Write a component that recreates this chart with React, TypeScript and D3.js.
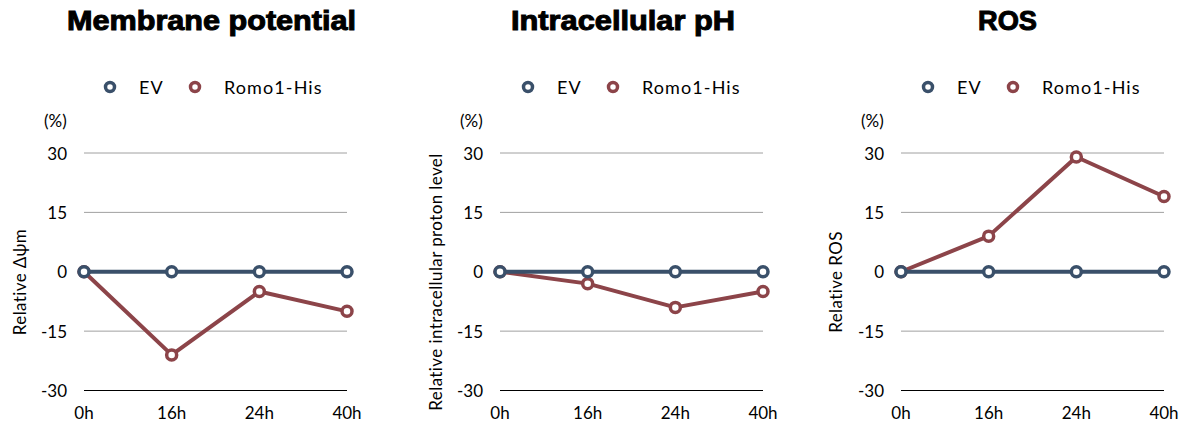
import React from "react";
import * as d3 from "d3";

const categories = ["0h", "16h", "24h", "40h"];
const yTicks = [-30, -15, 0, 15, 30];
const seriesNames = ["EV", "Romo1-His"];

const membraneEV = [0, 0, 0, 0];
const membraneRomo = [0, -21, -5, -10];
const phEV = [0, 0, 0, 0];
const phRomo = [0, -3, -9, -5];
const rosEV = [0, 0, 0, 0];
const rosRomo = [0, 9, 29, 19];

const COLORS = ["#3A506A", "#8C4449"];
const FONT = "Lato, 'Open Sans', sans-serif";

type PanelProps = {
  title: string;
  titleWidth: number;
  yLabel: string;
  ev: number[];
  romo: number[];
  plotLeft: number;
  titleX: number;
  yLabelX: number;
  legendX: number;
  pctX: number;
};

function Panel(p: PanelProps) {
  const x = d3.scalePoint<string>().domain(categories).range([p.plotLeft, p.plotLeft + 263]).padding(0);
  const y = d3.scaleLinear().domain([-30, 30]).range([390.5, 153]);
  const line = d3
    .line<number>()
    .x((_, i) => x(categories[i]) as number)
    .y((d) => y(d));
  const series = [p.ev, p.romo];
  return (
    <g>
      <text
        x={p.titleX}
        y={30}
        textAnchor="middle"
        fontFamily="'Liberation Sans', Arial, sans-serif"
        fontWeight={900}
        fontSize={27}
        fill="#000"
        stroke="#000"
        strokeWidth={1}
        textLength={p.titleWidth}
        lengthAdjust="spacingAndGlyphs"
      >
        {p.title}
      </text>
      {seriesNames.map((n, i) => {
        const lx = p.legendX + i * 85;
        return (
          <g key={n}>
            <circle cx={lx} cy={87} r={4.5} fill="#fff" stroke={COLORS[i]} strokeWidth={3.5} />
            <text x={lx + 29} y={87} dominantBaseline="central" fontFamily={FONT} fontSize={18} letterSpacing={1.1} fill="#000">
              {n}
            </text>
          </g>
        );
      })}
      <text x={p.pctX} y={120} dominantBaseline="central" fontFamily={FONT} fontSize={17} fill="#000">
        (%)
      </text>
      {yTicks.map((t) => (
        <g key={t}>
          <line x1={p.plotLeft} x2={p.plotLeft + 263} y1={y(t)} y2={y(t)} stroke={t === -30 ? "#000" : "#A0A0A0"} strokeWidth={1} />
          <text x={p.plotLeft - 17} y={y(t)} textAnchor="end" dominantBaseline="central" fontFamily={FONT} fontSize={17} fill="#000">
            {t}
          </text>
        </g>
      ))}
      {categories.map((c) => (
        <text key={c} x={x(c)} y={419} textAnchor="middle" fontFamily={FONT} fontSize={17} fill="#000">
          {c}
        </text>
      ))}
      <text
        transform={`translate(${p.yLabelX},282) rotate(-90)`}
        textAnchor="middle"
        dominantBaseline="central"
        fontFamily={FONT}
        fontSize={17}
        letterSpacing={0.4}
        fill="#000"
      >
        {p.yLabel}
      </text>
      {[1, 0].map((si) => (
        <g key={si}>
          <path d={line(series[si]) || ""} fill="none" stroke={COLORS[si]} strokeWidth={4} strokeLinejoin="round" />
          {series[si].map((v, i) => (
            <circle key={i} cx={x(categories[i])} cy={y(v)} r={5} fill="#fff" stroke={COLORS[si]} strokeWidth={3.5} />
          ))}
        </g>
      ))}
    </g>
  );
}

export default function App() {
  return (
    <svg width={1193} height={444} style={{ position: "absolute", left: 0, top: 0, background: "#fff" }}>
      <rect width={1193} height={444} fill="#fff" />
      <Panel title="Membrane potential" titleWidth={289} yLabel="Relative Δψm" ev={membraneEV} romo={membraneRomo} plotLeft={84} titleX={211.5} yLabelX={19} legendX={110} pctX={44} />
      <Panel title="Intracellular pH" titleWidth={224} yLabel="Relative intracellular proton level" ev={phEV} romo={phRomo} plotLeft={500} titleX={623} yLabelX={435} legendX={528} pctX={460} />
      <Panel title="ROS" titleWidth={59} yLabel="Relative ROS" ev={rosEV} romo={rosRomo} plotLeft={901} titleX={1007.5} yLabelX={835} legendX={928} pctX={861} />
    </svg>
  );
}
